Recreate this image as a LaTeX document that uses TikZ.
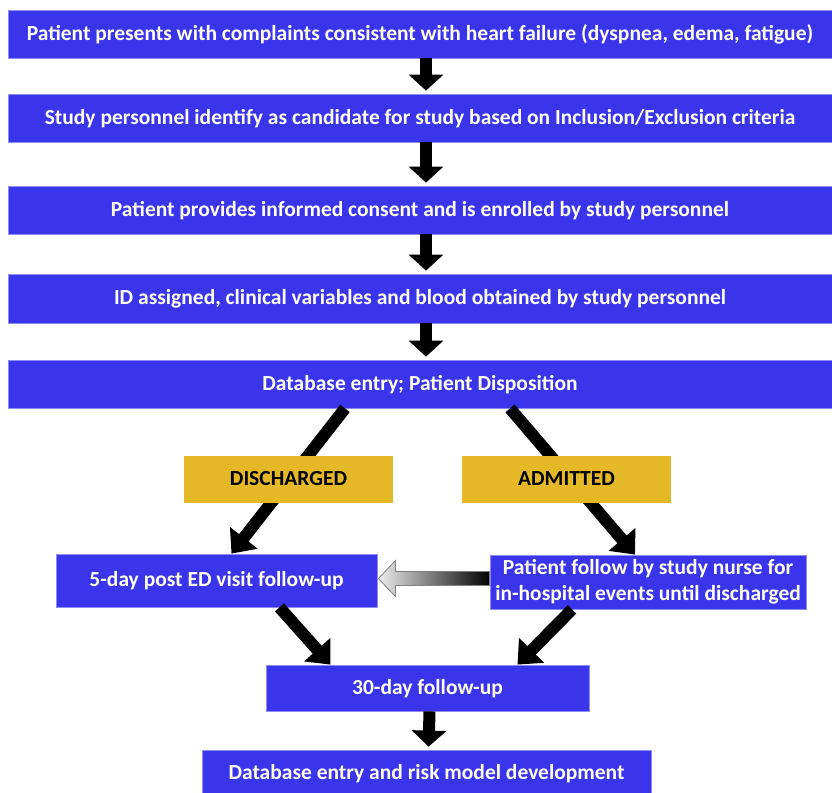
\documentclass[tikz,border=0pt]{standalone}
\usepackage{fontspec}
\setmainfont{Carlito}
\usetikzlibrary{arrows.meta,calc}
\definecolor{boxblue}{RGB}{58,52,234}
\definecolor{boxedge}{RGB}{140,140,245}
\definecolor{boxgold}{RGB}{229,184,40}
\begin{document}
\begin{tikzpicture}[x=1pt,y=-1pt,
  bluebox/.style={fill=boxblue,draw=boxedge,line width=0.8pt,inner sep=0pt,text=white,font=\fontsize{21.5}{26}\selectfont\bfseries,align=center},
  oneline/.style={text height=15pt,text depth=2.6pt},
  goldbox/.style={fill=boxgold,inner sep=0pt,text=black,font=\fontsize{21.5}{26}\selectfont\bfseries,minimum width=209pt,minimum height=47pt,oneline},
  downarrow/.style={line width=12pt,-{Triangle[width=34pt,length=16pt]}},
  diagarrow/.style={line width=12pt,-{Triangle[width=34pt,length=20pt]}}]
\useasboundingbox (0,0) rectangle (832,792);
\clip (0,0) rectangle (832,792);
\node[bluebox,oneline,minimum width=824pt,minimum height=48pt] (b1) at (420,34) {Patient presents with complaints consistent with heart failure (dyspnea, edema, fatigue)};
\node[bluebox,oneline,minimum width=824pt,minimum height=48pt] (b2) at (420,118) {Study personnel identify as candidate for study based on Inclusion/Exclusion criteria};
\node[bluebox,oneline,minimum width=824pt,minimum height=48pt] (b3) at (420,210) {Patient provides informed consent and is enrolled by study personnel};
\node[bluebox,oneline,minimum width=824pt,minimum height=49pt] (b4) at (420,298.5) {ID assigned, clinical variables and blood obtained by study personnel};
\node[bluebox,oneline,minimum width=824pt,minimum height=48pt] (b5) at (420,384) {Database entry; Patient Disposition};
\node[bluebox,oneline,minimum width=321pt,minimum height=53pt] (five) at (216.5,580.5) {5-day post ED visit follow-up};
\node[bluebox,minimum width=316pt,minimum height=54pt] (follow) at (648,582) {Patient follow by study nurse for\\in-hospital events until discharged};
\node[bluebox,oneline,minimum width=323pt,minimum height=46pt] (thirty) at (427.5,688) {30-day follow-up};
\node[bluebox,oneline,minimum width=449pt,minimum height=46pt] (last) at (426.5,773) {Database entry and risk model development};

\draw[downarrow,shorten >=3pt] ([xshift=6pt]b1.south) -- ([xshift=6pt]b2.north);
\draw[downarrow,shorten >=3pt] ([xshift=6pt]b2.south) -- ([xshift=6pt]b3.north);
\draw[downarrow,shorten >=3pt] ([xshift=6pt]b3.south) -- ([xshift=6pt]b4.north);
\draw[downarrow,shorten >=3pt] ([xshift=6pt]b4.south) -- ([xshift=6pt]b5.north);
\draw[downarrow,shorten >=3pt] ([xshift=2pt]thirty.south) -- ([xshift=2pt]last.north);

\draw[diagarrow] ([xshift=-75pt]b5.south) -- ([xshift=15pt]five.north);
\draw[diagarrow] ([xshift=90pt]b5.south) -- ([xshift=-13pt]follow.north);
\draw[diagarrow] ([xshift=63pt]five.south) -- ([xshift=-97pt]thirty.north);
\draw[diagarrow] ([xshift=-76pt]follow.south) -- ([xshift=90pt]thirty.north);

\node[goldbox] (dis) at (288.5,479.5) {DISCHARGED};
\node[goldbox] (adm) at (566.5,479.5) {ADMITTED};

\coordinate (gtip) at ($(five.east)+(1pt,2pt)$);
\coordinate (gend) at ($(follow.west)+(0,0pt)$);
\shade[left color=white!85!gray,right color=black,draw=gray,line width=0.8pt]
  (gtip) -- ++(17pt,-18pt) -- ++(0,11pt) -- (gend |- {$(gtip)+(0,-7pt)$}) -- (gend |- {$(gtip)+(0,7pt)$}) -- ($(gtip)+(17pt,7pt)$) -- ++(0,11pt) -- cycle;
\end{tikzpicture}
\end{document}
